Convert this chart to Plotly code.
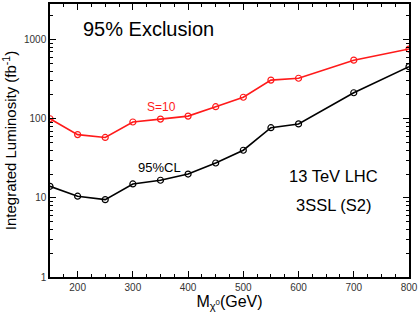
import plotly.graph_objects as go

# chargino/neutralino mass points (GeV)
mass = [150, 200, 250, 300, 350, 400, 450, 500, 550, 600, 700, 800]

# luminosity needed (fb^-1)
lumi_s10 = [100, 63, 58, 91, 99, 108, 142, 187, 308, 325, 550, 760]
lumi_cl95 = [14, 10.5, 9.5, 15, 16.7, 20, 27.6, 40, 77, 86, 213, 455]

ytick_vals = [1, 10, 100, 1000]
ytick_text = ["1", "10", "100", "1000"]
xtick_vals = [200, 300, 400, 500, 600, 700, 800]

# minor ticks 2..9 in each decade
yminor = [m * 10 ** d for d in range(4) for m in range(2, 10)]

fig = go.Figure()

fig.add_trace(go.Scatter(
    x=mass, y=lumi_s10, mode="lines+markers",
    line=dict(color="#ff1a1a", width=1.6),
    marker=dict(symbol="circle-open", size=6, color="#ff1a1a", line=dict(width=1.2)),
    showlegend=False))

fig.add_trace(go.Scatter(
    x=mass, y=lumi_cl95, mode="lines+markers",
    line=dict(color="black", width=1.6),
    marker=dict(symbol="circle-open", size=6, color="black", line=dict(width=1.2)),
    showlegend=False))

# text labels inside the frame
fig.add_annotation(x=0.085, y=0.91, xref="paper", yref="paper", text="95% Exclusion",
                   showarrow=False, xanchor="left", yanchor="middle",
                   font=dict(size=20, color="black"))
fig.add_annotation(x=322, y=2.15, text="S=10", showarrow=False,
                   xanchor="left", yanchor="middle", font=dict(size=12, color="#ff1a1a"))
fig.add_annotation(x=305, y=1.38, text="95%CL", showarrow=False,
                   xanchor="left", yanchor="middle", font=dict(size=13, color="black"))
fig.add_annotation(x=0.79, y=0.37, xref="paper", yref="paper", text="13 TeV LHC",
                   showarrow=False, xanchor="center", yanchor="middle",
                   font=dict(size=16.5, color="black"))
fig.add_annotation(x=0.79, y=0.265, xref="paper", yref="paper", text="3SSL (S2)",
                   showarrow=False, xanchor="center", yanchor="middle",
                   font=dict(size=16.5, color="black"))

fig.update_xaxes(
    range=[150, 800], tickvals=xtick_vals, ticks="inside", ticklen=6, tickwidth=1,
    tickcolor="black", showline=True, linecolor="black", linewidth=1.5, mirror="ticks",
    showgrid=False, zeroline=False, tickfont=dict(size=10, color="#333"),
    minor=dict(dtick=25, tick0=150, ticks="inside", ticklen=3, tickcolor="black", showgrid=False),
    title=dict(text="M<sub>χ<sup>0</sup></sub>(GeV)", font=dict(size=16, color="black"), standoff=2))

fig.update_yaxes(
    type="log", range=[0, 3.45], tickvals=ytick_vals, ticktext=ytick_text,
    ticks="inside", ticklen=6, tickwidth=1, tickcolor="black",
    showline=True, linecolor="black", linewidth=1.5, mirror="ticks",
    showgrid=False, zeroline=False, tickfont=dict(size=10, color="#333"),
    minor=dict(tickvals=yminor, ticks="inside", ticklen=3, tickcolor="black", showgrid=False),
    title=dict(text="Integrated Luminosity (fb<sup>-1</sup>)", font=dict(size=15, color="black"), standoff=4))

fig.update_layout(
    width=420, height=313,
    margin=dict(l=50, r=9, t=2, b=36),
    plot_bgcolor="white", paper_bgcolor="white",
    font=dict(family="Liberation Sans, Arial, sans-serif"))

fig.write_html("out.html", config={"displayModeBar": False},
               post_script="document.body.style.margin='0';")
